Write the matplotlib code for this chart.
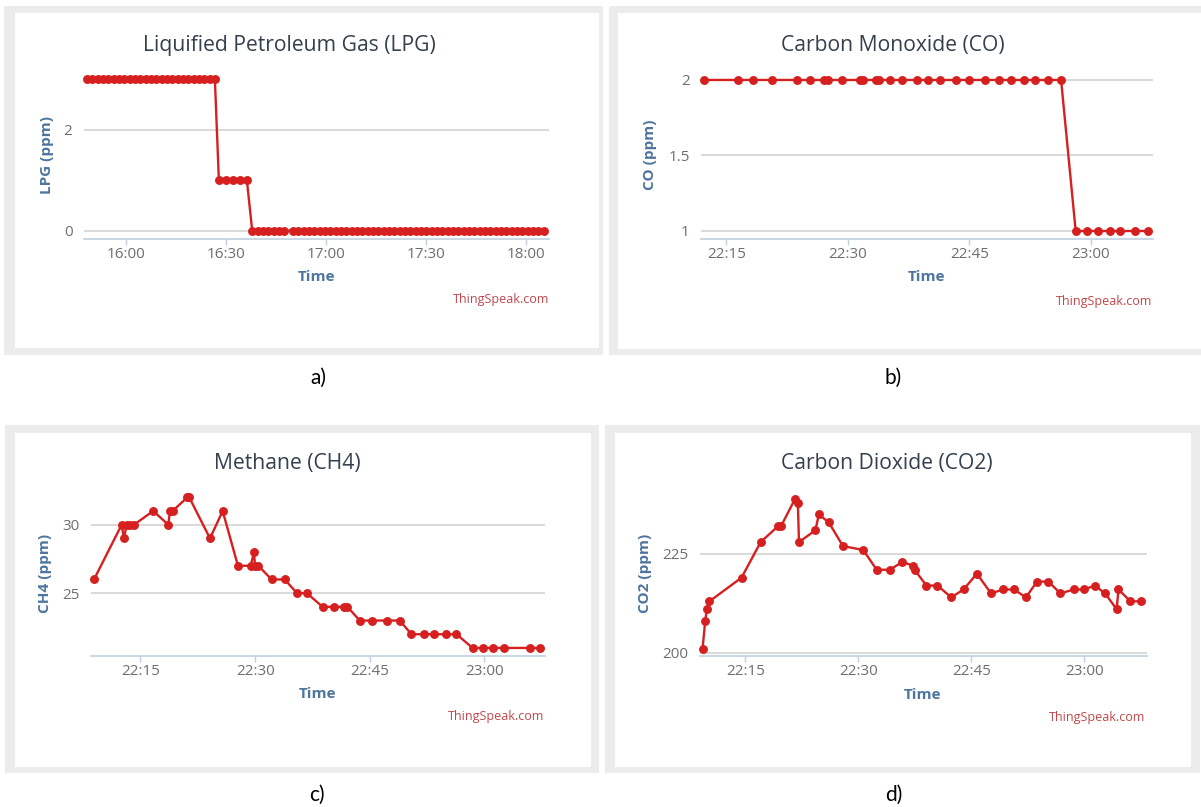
import matplotlib
matplotlib.use("Agg")
import matplotlib.pyplot as plt
from matplotlib.patches import Rectangle

# ---------------- data (minutes) ----------------
# a) LPG, minutes after 15:00
lpg_time = [48.2, 49.8, 51.4, 53.0, 54.6, 56.2, 57.8, 59.4, 61.0, 62.6, 64.2, 65.8,
            67.4, 69.0, 70.6, 72.2, 73.8, 75.4, 77.0, 78.6, 80.2, 81.8, 83.4, 85.0, 86.6,
            87.8, 89.9, 92.0, 94.1, 96.2,
            97.8, 99.4, 101.0, 102.6, 104.2, 105.8, 107.4,
            110.0, 111.6, 113.2, 114.8, 116.4, 118.0, 119.6, 121.2, 122.8, 124.4, 126.0,
            127.6, 129.2, 130.8, 132.4, 134.0, 135.6, 137.2, 138.8, 140.4, 142.0, 143.6,
            145.2, 146.8, 148.4, 150.0, 151.6, 153.2, 154.8, 156.4, 158.0, 159.6, 161.2,
            162.8, 164.4, 166.0, 167.6, 169.2, 170.8, 172.4, 174.0, 175.6, 177.2, 178.8,
            180.4, 182.0, 183.6, 185.2]
lpg_ppm = [3, 3, 3, 3, 3, 3, 3, 3, 3, 3, 3, 3, 3, 3, 3, 3, 3, 3, 3, 3, 3, 3, 3, 3, 3,
           1, 1, 1, 1, 1,
           0, 0, 0, 0, 0, 0, 0,
           0, 0, 0, 0, 0, 0, 0, 0, 0, 0, 0, 0, 0, 0, 0, 0, 0, 0, 0, 0, 0, 0, 0, 0,
           0, 0, 0, 0, 0, 0, 0, 0, 0, 0, 0, 0, 0, 0, 0, 0, 0, 0, 0, 0, 0, 0, 0, 0]
lpg_ticks = [60, 90, 120, 150, 180]
lpg_ticklabels = ["16:00", "16:30", "17:00", "17:30", "18:00"]
lpg_yticks = [0, 2]

# b) CO, minutes after 22:00
co_time = [12.26, 16.42, 18.3, 20.67, 23.73, 25.39, 27.1, 27.5, 29.26, 31.5, 31.85,
           33.45, 33.85, 35.16, 36.62, 38.51, 39.93, 41.35, 43.33, 44.98, 46.96, 48.62,
           50.08, 51.68, 53.15, 54.75, 56.31,
           58.11, 59.48, 60.89, 62.31, 63.63, 65.42, 67.03]
co_ppm = [2, 2, 2, 2, 2, 2, 2, 2, 2, 2, 2, 2, 2, 2, 2, 2, 2, 2, 2, 2, 2, 2, 2, 2, 2, 2, 2,
          1, 1, 1, 1, 1, 1, 1]
co_yticks = [1, 1.5, 2]

# c) CH4, minutes after 22:00
ch4_time = [8.92, 12.54, 12.84, 13.19, 13.63, 14.15, 16.67, 18.64, 18.86, 19.21, 21.12,
            21.38, 24.09, 25.75, 27.75, 29.42, 29.85, 29.98, 30.41, 32.16, 33.87, 35.47,
            36.77, 38.82, 40.27, 41.68, 42.08, 43.68, 45.28, 47.28, 48.93, 50.43, 52.04,
            53.39, 54.94, 56.34, 58.44, 59.79, 61.1, 62.6, 65.95, 67.2]
ch4_ppm = [26, 30, 29, 30, 30, 30, 31, 30, 31, 31, 32, 32, 29, 31, 27, 27, 28, 27, 27, 26,
           26, 25, 25, 24, 24, 24, 24, 23, 23, 23, 23, 22, 22, 22, 22, 22, 21, 21, 21, 21,
           21, 21]
ch4_yticks = [25, 30]

# d) CO2, minutes after 22:00
co2_time = [9.31, 9.66, 9.87, 10.22, 14.49, 17.03, 19.32, 19.73, 21.61, 21.97, 22.12,
            24.3, 24.76, 26.08, 27.96, 30.66, 32.44, 34.22, 35.84, 37.27, 37.47, 39.05,
            40.52, 42.35, 43.98, 45.76, 47.64, 49.21, 50.69, 52.27, 53.74, 55.26, 56.84,
            58.62, 60.0, 61.42, 62.8, 64.32, 64.57, 66.15, 67.52]
co2_ppm = [201, 208, 211, 213, 219, 228, 232, 232, 239, 238, 228, 231, 235, 233, 227, 226,
           221, 221, 223, 222, 221, 217, 217, 214, 216, 220, 215, 216, 216, 214, 218, 218,
           215, 216, 216, 217, 215, 211, 216, 213, 213]
co2_yticks = [200, 225]

night_ticks = [15, 30, 45, 60]
night_ticklabels = ["22:15", "22:30", "22:45", "23:00"]

titles = ["Liquified Petroleum Gas (LPG)", "Carbon Monoxide (CO)",
          "Methane (CH4)", "Carbon Dioxide (CO2)"]
ylabels = ["LPG (ppm)", "CO (ppm)", "CH4 (ppm)", "CO2 (ppm)"]
panel_labels = ["a)", "b)", "c)", "d)"]

# ---------------- layout (pixels) ----------------
W, H = 1201, 807
RED = "#d62020"
TITLE_C = "#34404e"
AXT_C = "#4d759e"
TICK_C = "#6e6e6e"
GRID_C = "#cfcfcf"
AXL_C = "#c0d0e0"
CRED_C = "#c0474a"
FONT = ["Open Sans", "DejaVu Sans"]

plt.rcParams["font.family"] = FONT

fig = plt.figure(figsize=(W / 100, H / 100), dpi=100)
fig.patch.set_facecolor("white")


def fx(x):
    return x / W


def fy(y):
    return 1 - y / H


def rect(x0, y0, x1, y1, color):
    fig.add_artist(Rectangle((fx(x0), fy(y1)), fx(x1) - fx(x0), fy(y0) - fy(y1),
                             transform=fig.transFigure, facecolor=color,
                             edgecolor="none", zorder=-10))


frames = [
    ((4, 6, 603, 355), (14.5, 13.3, 599, 348.3)),
    ((609, 6, 1201, 355), (618.4, 13, 1201, 349)),
    ((4.6, 425, 599, 773), (14.5, 432.7, 591, 766.7)),
    ((604.6, 425, 1200, 773), (614.5, 432.7, 1191, 766.7)),
]
for outer, inner in frames:
    rect(*outer, "#ececec")
    rect(*inner, "#ffffff")

# plot boxes: left, right, top, bottom (px) ; xlim ; ylim
boxes = [
    (84.2, 549.2, 70, 238.7, (47.4, 186.9), (-0.159, 3.18)),
    (701.4, 1153, 70, 238.7, (11.93, 67.65), (0.949, 2.066)),
    (91.1, 545.4, 488, 656, (8.54, 67.97), (20.41, 32.68)),
    (700.3, 1146.5, 488, 656, (9.01, 68.29), (199.16, 241.7)),
]
series = [(lpg_time, lpg_ppm), (co_time, co_ppm), (ch4_time, ch4_ppm), (co2_time, co2_ppm)]
yticks = [lpg_yticks, co_yticks, ch4_yticks, co2_yticks]
xticks = [(lpg_ticks, lpg_ticklabels), (night_ticks, night_ticklabels),
          (night_ticks, night_ticklabels), (night_ticks, night_ticklabels)]
ytick_fmt = [lambda v: "%d" % v, lambda v: ("%g" % v), lambda v: "%d" % v, lambda v: "%d" % v]

title_pos = [(289.3, 45), (892.8, 45.7), (287, 463.3), (887, 463.3)]
ylabel_pos = [(47, 155), (649.8, 155), (45.2, 573.3), (645.2, 573.3)]
time_pos = [(317, 277), (926.3, 277.3), (317.6, 694.3), (922.6, 695)]
cred_pos = [(549, 299), (1152.2, 301), (544.2, 716.7), (1145.4, 717.3)]
plabel_pos = [(318, 378), (893, 378), (317, 795), (894, 795)]

for i in range(4):
    l, r, t, b, xl, yl = boxes[i]
    ax = fig.add_axes([fx(l), fy(b), (r - l) / W, (b - t) / H])
    ax.patch.set_alpha(0)
    x, y = series[i]
    ax.plot(x, y, color=RED, lw=1.7, marker="o", ms=5.4, mfc=RED, mec=RED,
            solid_joinstyle="round", zorder=3, clip_on=False)
    ax.set_xlim(*xl)
    ax.set_ylim(*yl)
    for s in ("top", "right", "left"):
        ax.spines[s].set_visible(False)
    ax.spines["bottom"].set_color(AXL_C)
    ax.spines["bottom"].set_linewidth(1.2)
    ax.set_yticks(yticks[i])
    ax.set_yticklabels([ytick_fmt[i](v) for v in yticks[i]])
    ax.yaxis.grid(True, color=GRID_C, lw=1.1, zorder=0)
    ax.set_axisbelow(True)
    ax.tick_params(axis="y", length=0, pad=8.5, labelsize=11, labelcolor=TICK_C)
    xt, xlab = xticks[i]
    ax.set_xticks(xt)
    ax.set_xticklabels(xlab)
    ax.tick_params(axis="x", length=4.5, width=1, color=AXL_C, pad=1.5,
                   labelsize=11, labelcolor=TICK_C)

    fig.text(fx(title_pos[i][0]), fy(title_pos[i][1]), titles[i], ha="center",
             va="center", fontsize=15.2, color=TITLE_C)
    fig.text(fx(ylabel_pos[i][0]), fy(ylabel_pos[i][1]), ylabels[i], ha="center",
             va="center", rotation=90, fontsize=11, fontweight="bold", color=AXT_C)
    fig.text(fx(time_pos[i][0]), fy(time_pos[i][1]), "Time", ha="center",
             va="center", fontsize=11, fontweight="bold", color=AXT_C)
    fig.text(fx(cred_pos[i][0]), fy(cred_pos[i][1]), "ThingSpeak.com", ha="right",
             va="center", fontsize=9, color=CRED_C)
    fig.text(fx(plabel_pos[i][0]), fy(plabel_pos[i][1]), panel_labels[i], ha="center",
             va="center", fontsize=15, color="black", family=["Lato", "DejaVu Sans"])

fig.savefig("out.png", dpi=100, facecolor="white")
